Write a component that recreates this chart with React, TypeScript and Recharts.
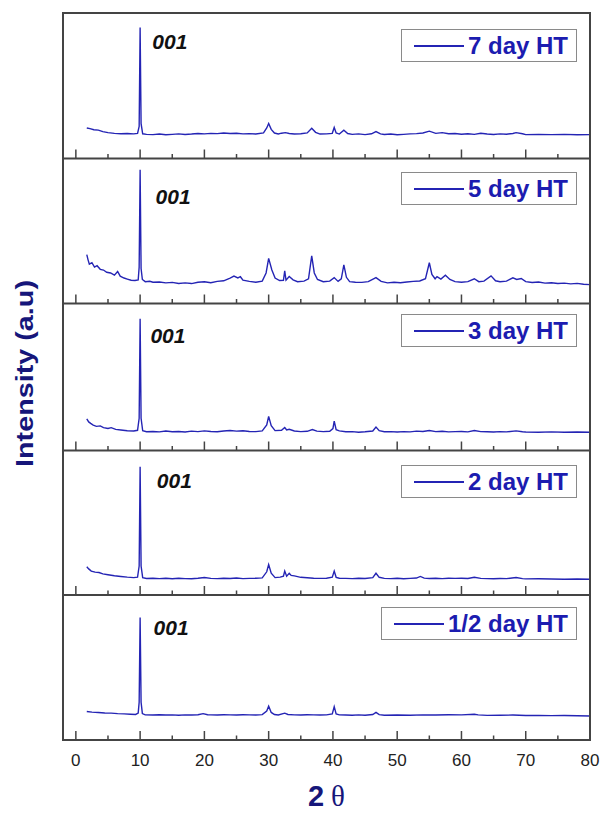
import { LineChart, Line, XAxis, YAxis, ReferenceDot } from "recharts";

// XRD patterns, intensity in % of panel height (0 = panel bottom, 100 = panel top)
const panelNames = ["7 day HT", "5 day HT", "3 day HT", "2 day HT", "1/2 day HT"];
const majorTicks = [0, 10, 20, 30, 40, 50, 60, 70, 80];
const minorTicks = [5, 15, 25, 35, 45, 55, 65, 75];
const peakLabel = "001";

const day7 = [
  [1.7, 21], [2.2, 20.5], [2.8, 19.8], [3.5, 19.5], [4.2, 18.5], [5, 17.8], [6, 17.3], [7, 17], [8, 17.2], [9, 16.9],
  [9.6, 17.2], [9.85, 22], [10, 90], [10.15, 24], [10.4, 17], [11, 16.6], [12, 16.4], [13, 16.8], [14, 16.3], [15, 16.6],
  [16, 16.9], [17, 16.5], [18, 16.8], [19, 17.2], [20, 16.9], [21, 17.3], [22, 17.1], [23, 17.5], [24, 17.2], [25, 17.4],
  [26, 16.9], [27, 17.1], [28, 16.8], [29.2, 17.6], [29.7, 21], [30, 24], [30.4, 20], [30.9, 17.5], [31.5, 16.9], [32, 17.4],
  [32.6, 17.8], [33.2, 17.2], [34, 16.8], [35, 17], [36, 17.6], [36.7, 20.8], [37.3, 18], [38, 16.8], [39, 16.9], [39.9, 17.3],
  [40.2, 21.3], [40.5, 17.5], [41, 16.8], [41.7, 19.4], [42.3, 17.2], [43, 16.6], [44, 16.9], [45, 16.4], [46, 17], [46.7, 18.5],
  [47.4, 16.9], [48, 16.5], [49, 16.8], [50, 16.3], [51, 16.6], [52, 16.9], [53, 17.1], [54, 17.5], [55, 18.8], [56, 17.3],
  [57, 17.8], [58, 17], [59, 17.2], [60, 16.7], [61, 17], [62, 16.6], [63, 17.3], [64, 16.8], [65, 16.5], [66, 16.9],
  [67, 16.7], [68, 17.2], [68.5, 17.8], [69.5, 17], [70, 16.4], [72, 16.5], [74, 16.4], [76, 16.6], [78, 16.3], [80, 16.4],
];

const day5 = [
  [1.7, 33.6], [1.9, 30], [2.1, 27], [2.5, 28], [2.9, 25], [3.3, 26], [3.8, 23.5], [4.3, 23], [4.8, 21.5], [5.4, 21],
  [6, 19.5], [6.5, 22], [6.9, 18.8], [7.5, 17.5], [8, 16.8], [8.6, 16], [9.2, 15.8], [9.7, 16.2], [9.85, 25], [10, 92],
  [10.15, 24], [10.35, 16.5], [10.8, 15], [11.5, 15.3], [12, 14.6], [13, 14.8], [14, 14.2], [15, 14.5], [16, 13.8], [17, 14.2],
  [18, 13.7], [19, 14.6], [20, 14.9], [21, 14.3], [22, 15.2], [23, 15.6], [24, 17.5], [24.6, 18.8], [25.2, 17.6], [25.6, 18.4],
  [26, 16], [27, 15.2], [28, 14.6], [29, 15.4], [29.6, 21], [30, 31], [30.5, 23], [31, 17.5], [31.7, 15.8], [32.3, 16],
  [32.5, 22.5], [32.7, 16], [33.2, 18.5], [33.8, 16.3], [34.5, 15], [35.5, 15.4], [36.2, 17], [36.7, 32.7], [37.1, 21], [37.6, 16.5],
  [38.5, 15], [39.5, 15.4], [40.2, 17.8], [40.8, 15.2], [41.3, 17], [41.7, 26.5], [42.1, 18], [42.6, 15], [43.5, 14.6], [44.5, 14.5],
  [45.5, 15], [46.7, 17.8], [47.5, 15.2], [48.5, 14.2], [49.5, 14.6], [50.5, 14.3], [51.5, 14.8], [52.5, 15.2], [53.5, 15.5], [54.4, 17],
  [55, 28], [55.4, 20], [55.9, 17], [56.2, 18.5], [56.8, 16.8], [57.5, 19.4], [58.2, 16.5], [59, 15], [60, 14.6], [61, 15],
  [62, 17], [62.7, 15], [63.5, 15.4], [64.6, 19], [65.3, 15.6], [66, 15], [67, 15.4], [68, 17.6], [68.6, 16.5], [69.3, 17.2],
  [70, 15], [71, 14.4], [72, 14.8], [73, 14], [74, 14.3], [75, 13.7], [76, 14], [77, 13.5], [78, 13.8], [79, 13.2], [80, 13],
];

const day3 = [
  [1.7, 21.6], [2, 19.5], [2.3, 18.5], [2.7, 17.3], [3.2, 16.5], [3.8, 16.8], [4.3, 15.6], [5, 15], [5.5, 15.6], [6.2, 14.4],
  [7, 14], [8, 13.5], [9, 13.3], [9.6, 13.8], [9.85, 22], [10, 90], [10.15, 22], [10.4, 13.5], [11, 12.8], [12, 13],
  [13, 12.7], [14, 13.3], [15, 12.8], [16, 13], [17, 12.6], [18, 13.2], [19, 12.9], [20, 13.4], [21, 13], [22, 12.8],
  [23, 13.3], [24, 13.6], [25, 13.2], [26, 13.5], [27, 13], [28, 12.9], [29, 13.4], [29.7, 17.5], [30, 23.3], [30.4, 17],
  [31, 13.6], [32, 13.8], [32.5, 15.7], [32.8, 14], [33.2, 14.5], [34, 13.3], [35, 12.9], [36, 13.1], [36.8, 14.3], [37.5, 13.2],
  [38.5, 12.9], [39.5, 13.1], [40, 15], [40.2, 20], [40.5, 14.2], [41, 13.4], [42, 12.8], [43, 12.9], [44, 12.5], [45, 12.8],
  [46.2, 13.3], [46.7, 16], [47.2, 13.5], [48, 12.8], [49, 12.9], [50, 12.6], [51, 12.9], [52, 12.7], [53, 13.2], [54, 13],
  [55, 13.6], [56, 12.9], [57, 13.1], [58, 12.7], [59, 12.9], [60, 13], [61, 12.7], [62, 13.6], [63, 12.9], [64, 12.8],
  [65, 12.6], [66, 12.9], [67, 12.7], [68.5, 13.4], [69.5, 12.8], [70, 12.6], [72, 12.5], [74, 12.7], [76, 12.5], [78, 12.6], [80, 12.5],
];

const day2 = [
  [1.7, 19.5], [2, 18], [2.4, 16.5], [3, 15.8], [3.6, 15.5], [4.2, 14.6], [5, 14], [6, 13.3], [7, 12.8], [8, 12.3],
  [9, 12], [9.6, 12.3], [9.85, 20], [10, 88.5], [10.15, 20], [10.4, 12], [11, 11.4], [12, 11.6], [13, 11.3], [14, 11.5],
  [15, 11.2], [16, 11.6], [17, 11.3], [18, 11.2], [19, 11.6], [20, 12.1], [21, 11.5], [22, 11.3], [23, 11.6], [24, 11.4],
  [25, 11.7], [26, 11.3], [27, 11.5], [28, 11.6], [29, 11.8], [29.7, 16], [30, 21], [30.4, 15], [31, 12], [31.8, 12.3],
  [32.3, 13], [32.5, 16.5], [32.8, 13], [33.2, 15], [33.5, 13.5], [34, 13.2], [35, 12.2], [36, 11.9], [37, 11.6], [38, 11.5],
  [39, 11.6], [39.9, 12.3], [40.2, 16.5], [40.5, 12.2], [41, 11.6], [42, 11.5], [43, 11.3], [44, 11.5], [45, 11.4], [46.2, 12],
  [46.7, 15], [47.2, 12.2], [48, 11.5], [49, 11.3], [50, 11.5], [51, 11.2], [52, 11.5], [53, 11.7], [53.6, 12.8], [54.2, 11.6],
  [55, 11.4], [56, 11.6], [57, 11.3], [58, 11.6], [59, 11.5], [60, 11.6], [61, 11.4], [62, 12.2], [63, 11.5], [64, 11.3],
  [65, 11.2], [66, 11.4], [67, 11.3], [68.5, 12.1], [69.5, 11.3], [70, 11.1], [72, 11.2], [74, 11], [76, 10.9], [78, 11], [80, 10.9],
];

const dayHalf = [
  [1.7, 19.7], [2.5, 19.2], [3.5, 19], [4.5, 18.6], [5.5, 18.5], [6.5, 18.2], [7.5, 18], [8.5, 17.8], [9.3, 17.6], [9.7, 18.5],
  [9.85, 26], [10, 84.4], [10.15, 26], [10.35, 18.2], [10.8, 17.3], [12, 17.2], [13, 17.4], [14, 17.2], [15, 17.3], [16, 17.1],
  [17, 17.3], [18, 17.2], [19, 17.4], [19.8, 18.2], [20.5, 17.4], [21, 17.3], [22, 17.2], [23, 17.4], [24, 17.3], [25, 17.2],
  [26, 17.4], [27, 17.3], [28, 17.2], [29, 17.5], [29.7, 20], [30, 23.3], [30.4, 19], [30.9, 17.6], [31.5, 17.3], [32.5, 18.5],
  [33, 17.6], [34, 17.3], [35, 17.2], [36, 17.4], [37, 17.3], [38, 17.2], [39, 17.3], [39.9, 18], [40.2, 23], [40.5, 18],
  [41, 17.3], [42, 17.2], [43, 17.1], [44, 17.3], [45, 17.1], [46.2, 17.6], [46.7, 19], [47.2, 17.5], [48, 17.1], [50, 17.2],
  [52, 17.1], [54, 17.3], [56, 17.2], [58, 17.4], [60, 17.3], [62, 17.8], [62.6, 17.3], [64, 17], [66, 17.1], [68, 17.2],
  [70, 16.9], [72, 17], [74, 16.8], [76, 16.9], [78, 16.7], [80, 16.6],
];

const patterns = [day7, day5, day3, day2, dayHalf];

// where the "001" tag sits (data coords of its left/middle)
const tagX = [11.9, 12.4, 11.6, 12.6, 12.1];
const tagY = [80.5, 73.2, 78.2, 78.8, 77.9];

// layout
const W = 603;
const H = 825;
const FRAME_LEFT = 63;
const FRAME_RIGHT = 590;
const EXTRA = 13; // room below / right of each plot so axis lines and "80" are not clipped
const panelTops = [12.5, 158, 303.5, 450, 595, 740];
const legendTops = [29, 172, 314, 465, 607];
const BLUE = "#2424b4";
const NAVY = "#16167a";
const FRAME = "#444";
const FONT = "'Liberation Sans', Arial, sans-serif";

const allTicks = [...majorTicks, ...minorTicks].sort((a, b) => a - b);

// inward tick marks drawn from the axis line upwards
function InwardTick(props: any) {
  const { x, y, payload } = props;
  const len = majorTicks.includes(payload.value) ? 9 : 4.5;
  return <line x1={x} x2={x} y1={y} y2={y - len} stroke={FRAME} strokeWidth={1.5} />;
}

function AxisTitle(props: any) {
  const vb = props.viewBox || {};
  const cx = vb.x + vb.width / 2;
  const y = vb.y + vb.height - 15;
  return (
    <text x={cx} y={y} textAnchor="middle" fill={NAVY} fontSize={29}>
      <tspan fontFamily={FONT} fontWeight="bold">2</tspan>
      <tspan dx={7} fontFamily="'Liberation Serif', 'Times New Roman', serif">θ</tspan>
    </text>
  );
}

function Panel({ idx }: { idx: number }) {
  const isLast = idx === patterns.length - 1;
  const ph = panelTops[idx + 1] - panelTops[idx];
  const labelsH = 80;
  const data = patterns[idx].map(([x, y]) => ({ x, y }));
  return (
    <div style={{ position: "absolute", left: FRAME_LEFT, top: panelTops[idx] }}>
      <LineChart
        width={FRAME_RIGHT - FRAME_LEFT + EXTRA}
        height={isLast ? ph + 1 + labelsH : ph + EXTRA}
        data={data}
        margin={{ top: 0, right: EXTRA, bottom: isLast ? 0 : EXTRA - 1, left: 0 }}
      >
        <YAxis yAxisId="y" type="number" domain={[0, 100]} hide allowDataOverflow />
        <XAxis
          xAxisId="frame"
          dataKey="x"
          type="number"
          domain={[-2, 80]}
          ticks={allTicks}
          interval={0}
          allowDataOverflow
          height={1}
          tickSize={0}
          tickMargin={0}
          tickLine={false}
          tick={<InwardTick />}
          axisLine={{ stroke: FRAME, strokeWidth: 2 }}
        />
        {isLast && (
          <XAxis
            xAxisId="labels"
            dataKey="x"
            type="number"
            domain={[-2, 80]}
            ticks={majorTicks}
            interval={0}
            allowDataOverflow
            height={labelsH}
            axisLine={false}
            tickLine={false}
            tickSize={0}
            tickMargin={13}
            tick={{ fill: "#222", fontSize: 17, fontFamily: FONT }}
            label={<AxisTitle />}
          />
        )}
        <Line
          xAxisId="frame"
          yAxisId="y"
          type="linear"
          dataKey="y"
          name={panelNames[idx]}
          stroke={BLUE}
          strokeWidth={1.4}
          dot={false}
          isAnimationActive={false}
        />
        <ReferenceDot
          xAxisId="frame"
          yAxisId="y"
          x={tagX[idx]}
          y={tagY[idx]}
          r={0}
          fill="none"
          stroke="none"
          label={{
            value: peakLabel,
            position: "right",
            offset: 0,
            fill: "#111",
            fontSize: 21,
            fontStyle: "italic",
            fontWeight: "bold",
            fontFamily: FONT,
          }}
        />
      </LineChart>
    </div>
  );
}

function LegendBox({ idx }: { idx: number }) {
  return (
    <div
      style={{
        position: "absolute",
        right: W - 577,
        top: legendTops[idx],
        height: 33,
        boxSizing: "border-box",
        border: "1.5px solid #8a8a8a",
        background: "#fff",
        display: "flex",
        alignItems: "center",
        padding: "0 8px 0 12px",
        fontFamily: FONT,
      }}
    >
      <div style={{ width: 50, height: 2, background: BLUE, marginRight: 4 }} />
      <span style={{ color: "#1c1cb0", fontWeight: "bold", fontSize: 24, lineHeight: "24px" }}>
        {panelNames[idx]}
      </span>
    </div>
  );
}

export default function App() {
  return (
    <div style={{ position: "absolute", left: 0, top: 0, width: W, height: H, background: "#fff", overflow: "hidden" }}>
      {patterns.map((_, i) => (
        <Panel key={i} idx={i} />
      ))}
      <div
        style={{
          position: "absolute",
          left: FRAME_LEFT - 1,
          top: panelTops[0] - 1,
          width: FRAME_RIGHT - FRAME_LEFT + 2,
          height: panelTops[5] - panelTops[0] + 2,
          boxSizing: "border-box",
          border: `2px solid ${FRAME}`,
          pointerEvents: "none",
        }}
      />
      {patterns.map((_, i) => (
        <LegendBox key={i} idx={i} />
      ))}
      <svg width={W} height={H} style={{ position: "absolute", left: 0, top: 0, pointerEvents: "none" }}>
        <text
          transform="translate(24, 373.5) rotate(-90)"
          textAnchor="middle"
          dominantBaseline="central"
          fill={NAVY}
          fontSize={24}
          fontWeight="bold"
          fontFamily={FONT}
          textLength={187}
          lengthAdjust="spacingAndGlyphs"
        >
          Intensity (a.u)
        </text>
      </svg>
    </div>
  );
}
